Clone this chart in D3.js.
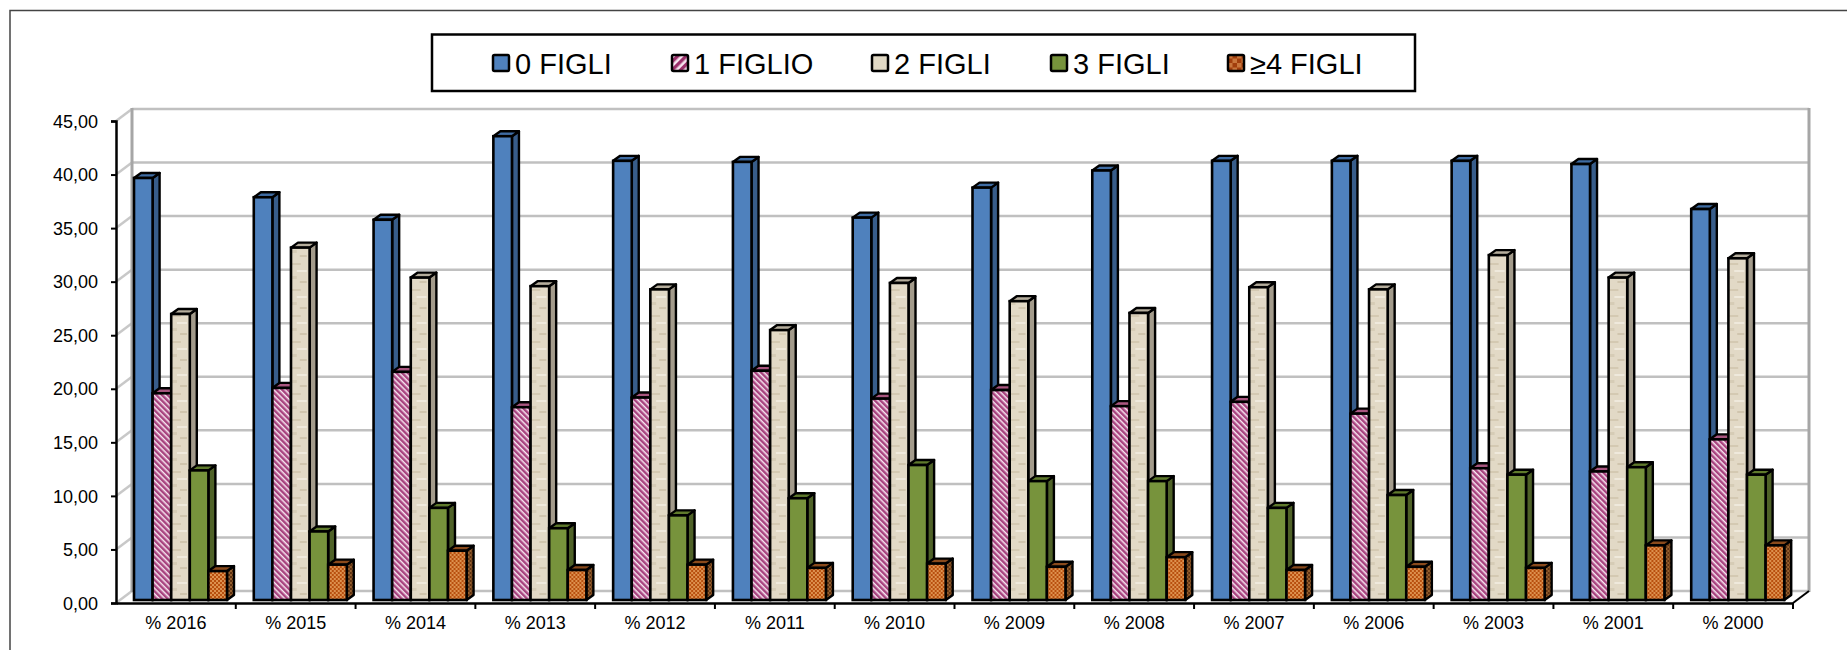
<!DOCTYPE html>
<html>
<head>
<meta charset="utf-8">
<style>
html, body { margin: 0; padding: 0; background: #fff; overflow: hidden; }
text { font-family: "Liberation Sans", Arial, sans-serif; fill: #000; }
</style>
<script src="https://cdn.jsdelivr.net/npm/d3@7"></script>
</head>
<body>
<div id="chart"></div>
<script>
var width = 1847;
var height = 650;

var categories = ["% 2016", "% 2015", "% 2014", "% 2013", "% 2012", "% 2011", "% 2010", "% 2009", "% 2008", "% 2007", "% 2006", "% 2003", "% 2001", "% 2000"];
var series = ["0 FIGLI", "1 FIGLIO", "2 FIGLI", "3 FIGLI", "≥4 FIGLI"];
var figli0 = [39.4, 37.6, 35.5, 43.3, 41.0, 40.9, 35.7, 38.5, 40.1, 41.0, 41.0, 41.0, 40.7, 36.5];
var figli1 = [19.3, 19.8, 21.3, 18.0, 18.9, 21.4, 18.8, 19.6, 18.1, 18.5, 17.4, 12.3, 12.0, 15.0];
var figli2 = [26.7, 32.9, 30.1, 29.3, 29.0, 25.2, 29.6, 27.9, 26.8, 29.2, 29.0, 32.2, 30.1, 31.9];
var figli3 = [12.1, 6.4, 8.6, 6.7, 7.9, 9.5, 12.6, 11.1, 11.1, 8.6, 9.8, 11.7, 12.4, 11.7];
var figli4 = [2.7, 3.3, 4.6, 2.8, 3.3, 3.0, 3.4, 3.1, 4.0, 2.8, 3.1, 3.0, 5.1, 5.1];
var yTicks = [0, 5, 10, 15, 20, 25, 30, 35, 40, 45];

var allValues = [figli0, figli1, figli2, figli3, figli4];

// fills: front, side, top for each series
var frontFill = ["#4f81bd", "url(#pink)", "url(#beige)", "#77933c", "url(#check)"];
var sideFill = ["#385d8a", "#8a3d68", "#a39b8b", "#4f6228", "url(#checkDark)"];
var topFill = ["#3f6ca3", "#a9567f", "#b5ad9c", "#5f7a2c", "#8a4a1c"];
var legendFill = ["#4f81bd", "url(#pinkBig)", "#e0d8c4", "#77933c", "url(#checkBig)"];
var legendX = [493, 672, 872, 1051, 1228];

// depth of the 3d box
var depthX = 16;
var depthY = 12;
var barDepthX = 7;
var barDepthY = 5;
var barInset = 3;

var svg = d3.select("#chart").append("svg")
	.attr("width", width)
	.attr("height", height)
	.style("display", "block");

var defs = svg.append("defs");

function stripes(id, size, w, color) {
	var p = defs.append("pattern")
		.attr("id", id)
		.attr("patternUnits", "userSpaceOnUse")
		.attr("width", size).attr("height", size)
		.attr("patternTransform", id == "pinkBig" ? "rotate(45)" : "rotate(-45)");
	p.append("rect").attr("width", size).attr("height", size).attr("fill", "#f7e6f0");
	p.append("rect").attr("width", w).attr("height", size).attr("fill", color);
}
stripes("pink", 4, 2.5, "#a8437f");
stripes("pinkBig", 6, 3.4, "#9a2f6a");

function checks(id, size, base, light) {
	var p = defs.append("pattern")
		.attr("id", id)
		.attr("patternUnits", "userSpaceOnUse")
		.attr("width", size).attr("height", size);
	p.append("rect").attr("width", size).attr("height", size).attr("fill", base);
	p.append("rect").attr("width", size / 2).attr("height", size / 2).attr("fill", light);
	p.append("rect").attr("x", size / 2).attr("y", size / 2).attr("width", size / 2).attr("height", size / 2).attr("fill", light);
}
checks("check", 4, "#b84f0e", "#dd914f");
checks("checkDark", 4, "#5e3212", "#96602f");
checks("checkBig", 9, "#a23e0c", "#c9763c");

var beige = defs.append("pattern")
	.attr("id", "beige")
	.attr("patternUnits", "userSpaceOnUse")
	.attr("width", 18).attr("height", 26);
beige.append("rect").attr("width", 18).attr("height", 26).attr("fill", "#e2d9c6");
beige.append("rect").attr("x", 2).attr("y", 3).attr("width", 9).attr("height", 2).attr("fill", "#d4c9b2");
beige.append("rect").attr("x", 7).attr("y", 10).attr("width", 10).attr("height", 2).attr("fill", "#efe9dc");
beige.append("rect").attr("x", 1).attr("y", 16).attr("width", 6).attr("height", 3).attr("fill", "#d6ccb6");
beige.append("rect").attr("x", 10).attr("y", 21).attr("width", 7).attr("height", 2).attr("fill", "#d0c5ae");

// outer frame, runs off the picture on the right and bottom
svg.append("path")
	.attr("d", "M10," + height + "V10.5H" + width)
	.attr("fill", "none")
	.attr("stroke", "#444")
	.attr("stroke-width", 1.5);

var x = d3.scaleBand()
	.domain(categories)
	.range([116, 1793]);

var xSeries = d3.scaleBand()
	.domain(series)
	.range([18, 111]);

var y = d3.scaleLinear()
	.domain([0, 45])
	.range([603, 121]);

// back wall gridlines and the slanted ones on the side wall
var grid = svg.append("g");
grid.selectAll(".wall")
	.data(yTicks)
	.enter().append("line")
	.attr("x1", x.range()[0] + depthX)
	.attr("x2", x.range()[1] + depthX)
	.attr("y1", function(d) { return y(d) - depthY; })
	.attr("y2", function(d) { return y(d) - depthY; })
	.attr("stroke", "#c0c0c0")
	.attr("stroke-width", 2.5);
grid.selectAll(".side")
	.data(yTicks)
	.enter().append("line")
	.attr("x1", x.range()[0])
	.attr("x2", x.range()[0] + depthX)
	.attr("y1", function(d) { return y(d); })
	.attr("y2", function(d) { return y(d) - depthY; })
	.attr("stroke", "#c8c8c8")
	.attr("stroke-width", 2.5);
grid.selectAll(".edge")
	.data(x.range())
	.enter().append("line")
	.attr("x1", function(d) { return d + depthX; })
	.attr("x2", function(d) { return d + depthX; })
	.attr("y1", y(45) - depthY - 1)
	.attr("y2", y(0) - depthY + 1)
	.attr("stroke", "#a6a6a6")
	.attr("stroke-width", 3);

// bars, one group per year, left to right so the next front hides the side
var groups = svg.selectAll(".group")
	.data(categories)
	.enter().append("g")
	.attr("class", "group")
	.attr("transform", function(d) { return "translate(" + x(d) + ",0)"; });

var bars = groups.selectAll(".bar")
	.data(function(d, i) {
		return series.map(function(s, k) {
			return { name: s, k: k, value: allValues[k][i] };
		});
	})
	.enter().append("g")
	.attr("class", "bar");

var barW = xSeries.bandwidth();
var barBase = y(0) - barInset;

function barTop(d) { return y(d.value) - barInset; }

bars.append("path")
	.attr("d", function(d) {
		var x1 = xSeries(d.name) + barW;
		return "M" + x1 + "," + barTop(d) + "l" + barDepthX + "," + (-barDepthY) +
			"V" + (barBase - barDepthY) + "l" + (-barDepthX) + "," + barDepthY + "Z";
	})
	.attr("fill", function(d) { return sideFill[d.k]; })
	.attr("stroke", "#000")
	.attr("stroke-width", 2.4)
	.attr("stroke-linejoin", "round");

bars.append("path")
	.attr("d", function(d) {
		var x0 = xSeries(d.name);
		return "M" + x0 + "," + barTop(d) + "l" + barDepthX + "," + (-barDepthY) +
			"h" + barW + "l" + (-barDepthX) + "," + barDepthY + "Z";
	})
	.attr("fill", function(d) { return topFill[d.k]; })
	.attr("stroke", "#000")
	.attr("stroke-width", 2.4)
	.attr("stroke-linejoin", "round");

bars.append("rect")
	.attr("x", function(d) { return xSeries(d.name); })
	.attr("y", barTop)
	.attr("width", barW)
	.attr("height", function(d) { return barBase - barTop(d); })
	.attr("fill", function(d) { return frontFill[d.k]; })
	.attr("stroke", "#000")
	.attr("stroke-width", 2.6);

// axes
var yAxis = d3.axisLeft(y)
	.tickValues(yTicks)
	.tickSize(5)
	.tickPadding(13)
	.tickFormat(function(d) { return d3.format(".2f")(d).replace(".", ","); });

var xAxis = d3.axisBottom(x)
	.tickSize(0)
	.tickPadding(13);

var gy = svg.append("g")
	.attr("transform", "translate(" + x.range()[0] + ",0)")
	.call(yAxis);
gy.selectAll("text").style("font-size", "18px").attr("dy", "0.34em");
gy.selectAll("line").attr("stroke", "#000").attr("stroke-width", 2);
gy.select(".domain").attr("stroke", "#000").attr("stroke-width", 2.5);

var gx = svg.append("g")
	.attr("transform", "translate(0," + y(0) + ")")
	.call(xAxis);
gx.selectAll("text").style("font-size", "18px");
gx.select(".domain").attr("stroke", "#000").attr("stroke-width", 2.5);

// category boundary ticks
gx.selectAll(".boundary")
	.data(categories)
	.enter().append("line")
	.attr("class", "boundary")
	.attr("x1", function(d) { return x(d) + x.bandwidth(); })
	.attr("x2", function(d) { return x(d) + x.bandwidth(); })
	.attr("y1", 0)
	.attr("y2", 6)
	.attr("stroke", "#000")
	.attr("stroke-width", 2);

// floor edge on the right
svg.append("line")
	.attr("x1", x.range()[1])
	.attr("x2", x.range()[1] + depthX)
	.attr("y1", y(0))
	.attr("y2", y(0) - depthY)
	.attr("stroke", "#000")
	.attr("stroke-width", 2);

// legend
var legend = svg.append("g");
legend.append("rect")
	.attr("x", 432).attr("y", 34.5)
	.attr("width", 983).attr("height", 56.5)
	.attr("fill", "#fff")
	.attr("stroke", "#000")
	.attr("stroke-width", 2.5);

var items = legend.selectAll(".item")
	.data(series)
	.enter().append("g")
	.attr("class", "item")
	.attr("transform", function(d, i) { return "translate(" + legendX[i] + ",0)"; });

items.append("rect")
	.attr("y", 55)
	.attr("width", 16)
	.attr("height", 16)
	.attr("rx", 1.5)
	.attr("fill", function(d, i) { return legendFill[i]; })
	.attr("stroke", "#000")
	.attr("stroke-width", 2.5);

items.append("text")
	.attr("x", 22)
	.attr("y", 73.5)
	.style("font-size", "29px")
	.text(function(d) { return d; });
</script>
</body>
</html>
